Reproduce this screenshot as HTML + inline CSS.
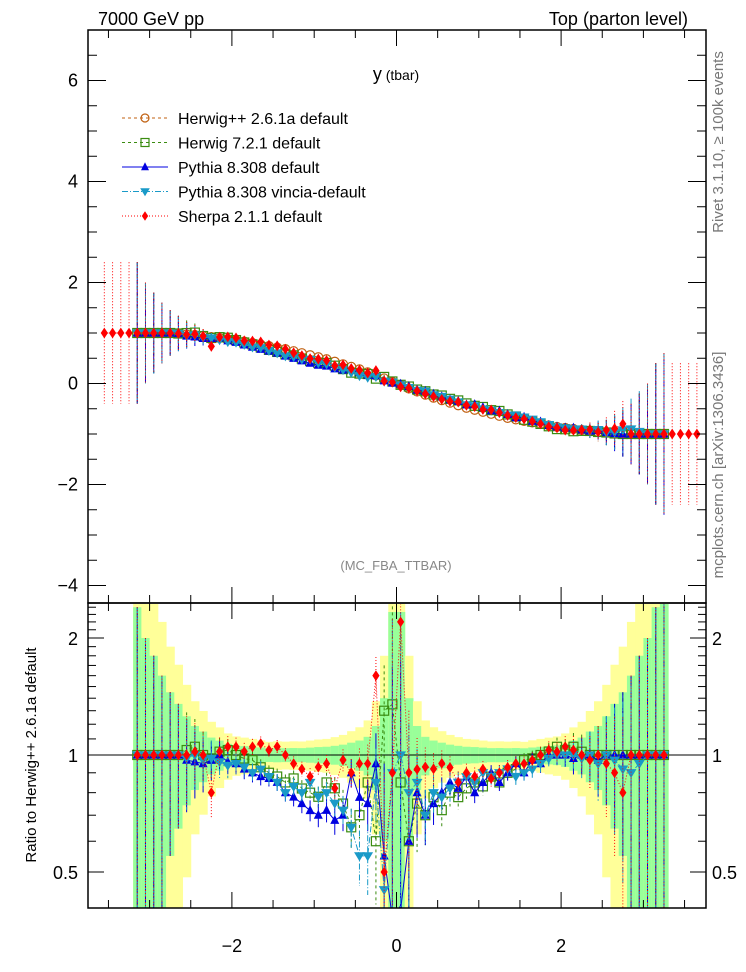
<!DOCTYPE html>
<html><head><meta charset="utf-8"><style>
html,body{margin:0;padding:0;background:#fff;width:746px;height:972px;overflow:hidden}
svg{font-family:"Liberation Sans",Arial,sans-serif;display:block}
</style></head><body>
<svg id="c" width="746" height="972" viewBox="0 0 746 972" xmlns="http://www.w3.org/2000/svg">
<defs>
<clipPath id="cm"><rect x="88" y="30" width="618" height="573"/></clipPath>
<clipPath id="cr"><rect x="88" y="604" width="618" height="304"/></clipPath>
</defs>
<g id="bands" clip-path="url(#cr)"></g>
<line x1="88" y1="755" x2="706" y2="755" stroke="#000" stroke-width="1"/>
<g id="mainMarks" clip-path="url(#cm)"></g>
<g id="ratioMarks" clip-path="url(#cr)"></g>
<g id="axes"></g>
<rect x="88" y="30" width="618" height="573" fill="none" stroke="#000" stroke-width="1.5"/>
<rect x="88" y="603" width="618" height="305" fill="none" stroke="#000" stroke-width="1.5"/>
<text x="98" y="25" font-size="18">7000 GeV pp</text>
<text x="688" y="25" font-size="18" text-anchor="end">Top (parton level)</text>
<text x="396" y="80" text-anchor="middle"><tspan font-size="18">y</tspan><tspan font-size="14"> (tbar)</tspan></text>
<text x="396" y="570" font-size="13" fill="#888" text-anchor="middle">(MC_FBA_TTBAR)</text>
<text transform="translate(723,142) rotate(-90)" font-size="15" fill="#777" text-anchor="middle">Rivet 3.1.10, ≥ 100k events</text>
<text transform="translate(723,465) rotate(-90)" font-size="15" fill="#777" text-anchor="middle">mcplots.cern.ch [arXiv:1306.3436]</text>
<text transform="translate(36,755) rotate(-90)" font-size="15" text-anchor="middle">Ratio to Herwig++ 2.6.1a default</text>
<g id="legend"></g>
</svg>
<script>
// ---- data ----
const binStart = -3.15;
const binWidth = 0.1;
const sherpaStart = -3.55;
const herwigpp = [1,1,1,1,1,0.99,0.97,0.96,0.94,0.92,0.90,0.88,0.86,0.83,0.80,0.77,0.74,0.71,0.68,0.64,0.60,0.56,0.52,0.48,0.43,0.38,0.33,0.28,0.22,0.16,0.10,0.03,
 -0.03,-0.10,-0.16,-0.22,-0.28,-0.33,-0.38,-0.43,-0.48,-0.52,-0.56,-0.60,-0.64,-0.68,-0.71,-0.74,-0.77,-0.80,-0.83,-0.86,-0.88,-0.90,-0.92,-0.94,-0.96,-0.97,-0.99,-1,-1,-1,-1,-1,-1];
const herwig7 = [1,1,1,1,1,0.99,0.999,1.008,0.94,0.902,0.918,0.906,0.86,0.813,0.776,0.716,0.666,0.625,0.578,0.557,0.492,0.448,0.406,0.408,0.353,0.285,0.215,0.196,0.187,0.096,0.13,0.0405,
 -0.0255,-0.06,-0.12,-0.154,-0.218,-0.238,-0.304,-0.335,-0.394,-0.442,-0.465,-0.528,-0.544,-0.612,-0.653,-0.718,-0.755,-0.8,-0.847,-0.903,-0.906,-0.945,-0.938,-0.94,-0.96,-0.97,-0.99,-1,-1,-1,-1,-1,-1];
const pythia = [1,1,1,1,1,0.99,0.941,0.922,0.893,0.892,0.90,0.845,0.817,0.764,0.72,0.678,0.644,0.604,0.544,0.499,0.45,0.403,0.364,0.346,0.292,0.266,0.297,0.218,0.165,0.152,0.055,0.0105,
 -0.012,-0.06,-0.128,-0.154,-0.21,-0.264,-0.323,-0.353,-0.422,-0.416,-0.476,-0.54,-0.544,-0.612,-0.675,-0.666,-0.747,-0.76,-0.83,-0.86,-0.88,-0.882,-0.92,-0.94,-0.931,-0.97,-0.99,-1,-1,-1,-1,-1,-1];
const vincia = [1,1,1,1,1,0.99,0.951,0.96,0.912,0.902,0.864,0.827,0.817,0.772,0.72,0.708,0.651,0.604,0.544,0.531,0.48,0.476,0.406,0.384,0.323,0.274,0.215,0.154,0.121,0.136,0.045,0.027,
 -0.03,-0.08,-0.136,-0.154,-0.224,-0.257,-0.312,-0.366,-0.422,-0.442,-0.504,-0.528,-0.576,-0.626,-0.625,-0.666,-0.708,-0.76,-0.813,-0.86,-0.88,-0.9,-0.902,-0.94,-0.912,-0.97,-0.96,-0.92,-0.9,-0.95,-1,-1,-1];
const sherpa = [1,1,1,1, 1,1,1,1,1,0.99,0.97,0.979,0.94,0.736,0.918,0.924,0.903,0.847,0.84,0.824,0.762,0.746,0.68,0.608,0.552,0.493,0.484,0.456,0.353,0.369,0.297,0.266,0.209,0.256,0.05,0.027,
 -0.066,-0.09,-0.147,-0.205,-0.258,-0.314,-0.353,-0.366,-0.432,-0.458,-0.515,-0.522,-0.576,-0.632,-0.675,-0.703,-0.747,-0.8,-0.855,-0.877,-0.924,-0.927,-0.92,-0.912,-0.96,-0.922,-0.891,-0.8,-1,-1,-1,-1,-1, -1,-1,-1,-1];
const errH = [1.4,1.0,0.8,0.6,0.45,0.35,0.25,0.18,0.14,0.1,0.08,0.06,0.05,0.045,0.04,0.035,0.03,0.03,0.028,0.027,0.025,0.025,0.025,0.024,0.024,0.024,0.025,0.025,0.025,0.03,0.04,0.04,
 0.04,0.04,0.03,0.025,0.025,0.025,0.024,0.024,0.024,0.025,0.025,0.025,0.027,0.028,0.03,0.03,0.035,0.04,0.045,0.05,0.06,0.08,0.1,0.14,0.18,0.25,0.35,0.45,0.6,0.8,1.0,1.4,1.6];
const yTicksMain = [6,4,2,0,-2,-4];
const yTicksRatio = [2,1,0.5];
const xTicks = [-2,0,2];

// ---- axes ----
const X = x => 396.5 + x*82.3;
const YMraw = v => 383.5 - v*50.5;
const YM = v => Math.min(603, Math.max(30, YMraw(v)));
const RMIN = 0.38, RMAX = 2.5;
const clampR = r => Math.min(RMAX, Math.max(RMIN, r));
const YR = r => 755 - Math.log2(clampR(r))*117;
const NS = 'http://www.w3.org/2000/svg';
function mk(tag, attrs, parent){const e=document.createElementNS(NS,tag);for(const k in attrs)e.setAttribute(k,attrs[k]);parent.appendChild(e);return e;}
const axes = document.getElementById('axes');
function tick(x1,y1,x2,y2){const l=mk('line',{x1,y1,x2,y2,stroke:'#000','stroke-width':1},axes);

}
for(let k=-7;k<=7;k++){const x=X(k*0.5);const major=(k%4===0);const L=major?16:8;
 tick(x,603,x,603-L); tick(x,908,x,908-L); tick(x,30,x,30+L); tick(x,603,x,603+L);}
xTicks.forEach(v=>{const t=mk('text',{x:X(v),y:952,'font-size':18,'text-anchor':'middle'},axes);t.textContent=(v<0?'\u2212'+(-v):v);

});
for(let k=-8;k<=14;k++){const v=k*0.5;const y=YMraw(v);if(y<30||y>603)continue;const L=(k%4===0)?18:9;tick(88,y,88+L,y);tick(706,y,706-L,y);}
yTicksMain.forEach(v=>{const t=mk('text',{x:78,y:YMraw(v)+6,'font-size':18,'text-anchor':'end'},axes);t.textContent=(v<0?'\u2212'+(-v):v);

});
[0.5,0.6,0.7,0.8,0.9,1,1.1,1.2,1.3,1.4,1.5,1.6,1.7,1.8,1.9,2,2.1,2.2,2.3,2.4].forEach(r=>{const y=YR(r);if(y<604)return;const L=(r===1||r===2||r===0.5)?16:8;tick(88,y,88+L,y);tick(706,y,706-L,y);});
yTicksRatio.forEach(v=>{[[78,'end'],[712,'start']].forEach(([x,a])=>{const t=mk('text',{x:x,y:YR(v)+7,'font-size':18,'text-anchor':a},axes);t.textContent=v;

});});

// ---- bands ----
const bands=document.getElementById('bands');
herwigpp.forEach((h,i)=>{const xc=binStart+i*binWidth;const rel=errH[i]/Math.abs(h);
 const x0=X(xc-binWidth/2),w=X(xc+binWidth/2)-x0+0.5;
 const yl=1-2*rel,yh=1+2*rel,gl=1-rel,gh=1+rel;
 const r1=mk('rect',{x:x0,y:YR(yh),width:w,height:YR(yl)-YR(yh),fill:'#ffff99'},bands);
 
 
 const r2=mk('rect',{x:x0,y:YR(gh),width:w,height:YR(gl)-YR(gh),fill:'#99ff99'},bands);
 
 });

// ---- series ----
const series=[
 {name:'herwigpp',label:'Herwig++ 2.6.1a default',vals:herwigpp,start:binStart,col:'#c06010',dash:'3,3',mk:'circle',ratio:false},
 {name:'herwig7',label:'Herwig 7.2.1 default',vals:herwig7,start:binStart,col:'#3a8c10',dash:'3,3',mk:'square',ratio:true},
 {name:'pythia',label:'Pythia 8.308 default',vals:pythia,start:binStart,col:'#0000e0',dash:'',mk:'up',ratio:true},
 {name:'vincia',label:'Pythia 8.308 vincia-default',vals:vincia,start:binStart,col:'#1a9ac8',dash:'6,2,1,2',mk:'down',ratio:true},
 {name:'sherpa',label:'Sherpa 2.1.1 default',vals:sherpa,start:sherpaStart,col:'#ff0000',dash:'1,2',mk:'diamond',ratio:true}];
function marker(g,type,x,y,col,s){
 let e;
 if(type==='circle')e=mk('circle',{cx:x,cy:y,r:5*s,fill:'none',stroke:col,'stroke-width':1.2},g);
 else if(type==='square')e=mk('rect',{x:x-5*s,y:y-5*s,width:10*s,height:10*s,fill:'none',stroke:col,'stroke-width':1.2},g);
 else if(type==='up')e=mk('polygon',{points:`${x},${y-6*s} ${x-5*s},${y+4*s} ${x+5*s},${y+4*s}`,fill:col},g);
 else if(type==='down')e=mk('polygon',{points:`${x},${y+6*s} ${x-6*s},${y-4*s} ${x+6*s},${y-4*s}`,fill:col},g);
 else e=mk('polygon',{points:`${x},${y-6*s} ${x+4*s},${y} ${x},${y+6*s} ${x-4*s},${y}`,fill:col},g);
 
 
}
const mainG=document.getElementById('mainMarks'), ratG=document.getElementById('ratioMarks');
series.forEach(s=>{
 const gm=mk('g',{},mainG);
 
 
 const gr=mk('g',{},ratG);
 
 
 const pm=[],pr=[];
 s.vals.forEach((v,j)=>{
  const xc=s.start+j*binWidth; const i=Math.round((xc-binStart)/binWidth);
  const e=(i>=0&&i<errH.length)?errH[i]:1.4;
  const x=X(xc),y=YM(v);pm.push(x+','+y);
  const eb=mk('line',{x1:x,y1:YM(v+e),x2:x,y2:YM(v-e),stroke:s.col,'stroke-width':1,'stroke-dasharray':s.dash},gm);
  
  
  marker(gm,s.mk,x,y,s.col,0.9);
  if(s.ratio&&i>=0&&i<herwigpp.length){
   const h=herwigpp[i];const r=v/h;const re=e/Math.abs(h);
   const yr=YR(r);pr.push(x+','+yr);
   const rb=mk('line',{x1:x,y1:YR(r+re),x2:x,y2:YR(r-re),stroke:s.col,'stroke-width':1,'stroke-dasharray':s.dash},gr);
   
   
   if(r>RMIN && r<RMAX) marker(gr,s.mk,x,yr,s.col,0.9);
  }
 });
 const lm=mk('polyline',{points:pm.join(' '),fill:'none',stroke:s.col,'stroke-width':1,'stroke-dasharray':s.dash},gm);
 
 
 if(pr.length){
 const lr=mk('polyline',{points:pr.join(' '),fill:'none',stroke:s.col,'stroke-width':1,'stroke-dasharray':s.dash},gr);
 
 }
});
// ---- legend ----
const leg=document.getElementById('legend');
series.forEach((s,k)=>{const y=118+k*24.5;
 const g=mk('g',{},leg);
 
 
 mk('line',{x1:122,y1:y,x2:168,y2:y,stroke:s.col,'stroke-width':1,'stroke-dasharray':s.dash},g);
 marker(g,s.mk,145,y,s.col,0.8);
 const t=mk('text',{x:178,y:y+6,'font-size':16},g);t.textContent=s.label;
});
</script>
</body></html>
